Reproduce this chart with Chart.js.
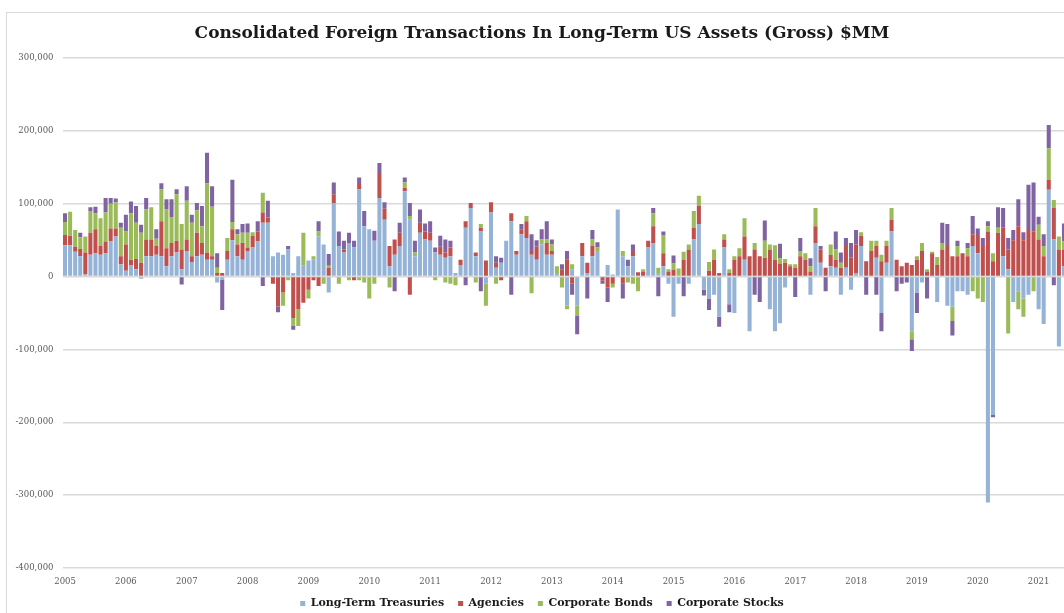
<!DOCTYPE html>
<html>
<head>
<meta charset="utf-8">
<title>Consolidated Foreign Transactions</title>
<script src="https://cdn.jsdelivr.net/npm/chart.js@4.4.1/dist/chart.umd.min.js"></script>
<style>
    html, body { margin: 0; padding: 0; background: #fff; width: 1064px; height: 613px; overflow: hidden; }
    #marco { position: absolute; left: 6px; top: 12px; width: 1080px; height: 620px; border: 1px solid #d9d9d9; background: #fff; }
    #caja { position: absolute; left: 0; top: 0; width: 1070px; height: 606px; }
</style>
</head>
<body>
<div id="marco"><div id="caja"><canvas id="grafico"></canvas></div></div>
<script>
// monthly data, Jan 2005 .. Jun 2021
const years = [2005, 2006, 2007, 2008, 2009, 2010, 2011, 2012, 2013, 2014, 2015, 2016, 2017, 2018, 2019, 2020, 2021];
const monthsLastYear = 6;

const yTicks = [-400000, -300000, -200000, -100000, 0, 100000, 200000, 300000];

// thousands of $MM
const treasuries = [
    43, 43, 34, 28, 3, 30, 32, 30, 32, 48, 55, 17,
    8, 16, 10, -3, 28, 28, 30, 28, 14, 28, 33, 10,
    35, 20, 28, 30, 23, 23, -8, -4, 23, 50, 28, 23,
    35, 40, 48, 74, 74, 28, 33, 30, 37, 5, 28, 15,
    22, 23, 55, 44, -22, 101, 42, 33, 46, 40, 120, 69,
    65, 49, 108, 78, 14, 30, 42, 117, 78, 28, 60, 51,
    49, 33, 30, 26, 28, 5, 16, 67, 94, 28, 62, -10,
    88, 12, 19, 49, 76, 30, 58, 53, 30, 23, 44, 30,
    30, 5, 0, -40, 10, -40, 28, 5, 28, 35, 0, 16,
    3, 92, 28, 14, 28, 0, 0, 40, 46, 5, 14, -10,
    -55, -10, 0, -10, 51, 72, -18, -30, -25, -55, 40, -38,
    -50, 0, 23, -75, 0, 0, 0, -45, -75, -64, -15, 0,
    0, 0, 0, -25, 46, 19, 0, 14, 12, -25, 12, -18,
    5, 42, 0, 0, 26, -50, 19, 62, 0, 0, 0, -75,
    -22, -8, 0, 0, -35, 0, -40, -41, -20, -20, -25, 42,
    32, 0, -310, -190, 0, 28, 10, -35, -20, -30, -25, 0,
    -45, -65, 119, 51, -96, 14
];

const agencies = [
    14, 13, 7, 10, 30, 30, 33, 12, 16, 18, 11, 11,
    36, 7, 14, 19, 23, 23, 12, 48, 25, 18, 16, 27,
    16, 8, 32, 16, 10, 5, 5, 5, 12, 15, 16, 23,
    5, 16, 14, 14, 7, -10, -41, -22, 0, -57, -45, -36,
    -18, -5, -13, 0, 12, 12, 0, 4, 0, -5, 7, 0,
    0, 0, 34, 15, 28, 21, 18, 5, -25, 0, 14, 11,
    11, 0, 11, 7, 12, 0, 7, 9, 7, 5, 5, 22,
    14, 7, -5, 0, 11, 5, 7, 23, 5, 18, 0, 16,
    5, 0, 10, 23, -10, 0, 18, 14, 14, 0, -5, -15,
    -10, 0, -10, 0, 7, 6, 7, 9, 23, 0, 18, 7,
    9, 0, 23, 37, 16, 25, 0, 8, 23, 5, 11, 5,
    23, 28, 32, 28, 37, 28, 26, 37, 23, 18, 19, 14,
    12, 28, 23, 7, 23, 18, 12, 16, 11, 12, 30, 26,
    39, 14, 21, 35, 16, 21, 23, 16, 23, 14, 19, 16,
    23, 35, 7, 32, 16, 37, 42, 28, 28, 32, 28, 16,
    25, 42, 62, 21, 60, 39, 27, 50, 69, 50, 64, 62,
    51, 28, 14, 43, 37, 23
];

const corpBonds = [
    18, 33, 23, 16, 22, 30, 22, 38, 40, 34, 36, 39,
    18, 64, 50, 41, 41, 44, 10, 44, 53, 35, 64, 35,
    53, 46, 31, 23, 95, 68, 7, 0, 18, 10, 14, 14,
    20, 5, 0, 27, 0, 0, 0, -18, -5, -11, -23, 45,
    -12, 5, 7, -10, 3, 0, -10, 0, -5, 0, -5, -8,
    -30, -10, 0, 0, -15, 0, 0, 7, 5, 5, 0, 0,
    0, -5, 0, -8, -10, -12, 0, 0, 0, -8, 5, -30,
    0, -10, 0, 0, 0, 0, 0, 7, -23, 0, 7, 5,
    9, 9, -15, -5, 7, -14, 0, 0, 9, 5, 0, 0,
    -5, 0, 7, -8, -10, -20, 3, 0, 18, 7, 25, 3,
    9, 11, 11, 7, 23, 14, 0, 12, 14, 0, 7, 5,
    5, 11, 25, 0, 9, 0, 23, 7, 20, 7, 5, 3,
    5, 7, 9, 7, 25, 0, 0, 14, 14, 7, 0, 0,
    0, 5, 0, 14, 7, 9, 7, 16, 0, 0, 0, -11,
    5, 11, 3, 2, 11, 9, 0, -20, 14, 0, 11, -20,
    -30, -35, 7, 11, 7, 0, -78, 0, -25, -25, 0, -20,
    20, 14, 43, 11, 18, 11
];

const corpStocks = [
    12, 0, 0, 6, 0, 5, 9, 0, 20, 8, 5, 7,
    23, 16, 23, 11, 16, 0, 13, 8, 14, 25, 7, -11,
    20, 11, 10, 28, 42, 28, 20, -42, 0, 58, 7, 12,
    13, 0, 14, -13, 23, 0, -8, 0, 5, -5, 0, 0,
    0, 0, 14, 0, 16, 16, 20, 12, 14, 9, 9, 21,
    0, 14, 14, 9, 0, -20, 14, 7, 18, 16, 18, 11,
    16, 7, 15, 18, 9, 0, 0, -12, 0, 0, -20, 0,
    0, 9, 7, 0, -25, 0, 7, 0, 23, 9, 14, 25,
    7, 0, 7, 12, -15, -25, 0, -30, 13, 7, -5, -20,
    0, 0, -20, 9, 9, 0, 0, 0, 7, -27, 5, 0,
    11, 0, -27, 0, 0, 0, -8, -16, 0, -14, 0, -11,
    0, 0, 0, 0, -25, -35, 28, 0, 0, 20, 0, 0,
    -28, 18, 0, 11, 0, 5, -20, 0, 25, 14, 11, 20,
    20, 0, -25, 0, -25, -25, 0, 0, -20, -10, -8, -16,
    -28, 0, -30, 0, 0, 28, 30, -20, 7, 0, 7, 25,
    9, 11, 7, -3, 28, 27, 16, 14, 37, 11, 62, 67,
    11, 16, 32, -12, 0, 25
];

const seriesNames = ["Long-Term Treasuries", "Agencies", "Corporate Bonds", "Corporate Stocks"];
const seriesColors = ["#95b3d7", "#c0504d", "#9bbb59", "#8064a2"];

const GraficoModel = {
    grafico: null,

    crearEtiquetas() {
        const etiquetas = [];
        years.forEach((year, i) => {
            const meses = i === years.length - 1 ? monthsLastYear : 12;
            for (let m = 1; m <= meses; m++) {
                etiquetas.push(year + "-" + String(m).padStart(2, "0"));
            }
        });
        return etiquetas;
    },

    renderizarGrafico() {
        const etiquetas = this.crearEtiquetas();
        const series = [treasuries, agencies, corpBonds, corpStocks];
        const fuenteEjes = { family: "DejaVu Serif", size: 8.5 };

        const datasets = series.map((valores, i) => ({
            label: seriesNames[i],
            data: valores.map(v => v * 1000),
            backgroundColor: seriesColors[i],
            borderWidth: 0
        }));

        const ctx = document.getElementById("grafico").getContext("2d");
        this.grafico = new Chart(ctx, {
            type: "bar",
            data: { labels: etiquetas, datasets: datasets },
            options: {
                responsive: true,
                maintainAspectRatio: false,
                animation: false,
                datasets: { bar: { categoryPercentage: 1, barPercentage: 0.8 } },
                plugins: {
                    title: {
                        display: true,
                        text: "Consolidated Foreign Transactions In Long-Term US Assets (Gross) $MM",
                        color: "#1a1a1a",
                        font: { family: "DejaVu Serif", size: 17, weight: "bold" },
                        padding: { top: 10, bottom: 14.6 }
                    },
                    legend: {
                        position: "bottom",
                        labels: {
                            boxWidth: 5,
                            boxHeight: 5,
                            padding: 14,
                            color: "#1a1a1a",
                            font: { family: "DejaVu Serif", size: 11, weight: "bold" }
                        }
                    },
                    tooltip: { enabled: false }
                },
                scales: {
                    x: {
                        stacked: true,
                        grid: { display: false, drawTicks: false },
                        border: { display: false },
                        ticks: {
                            autoSkip: false,
                            maxRotation: 0,
                            padding: 9,
                            color: "#595959",
                            font: fuenteEjes,
                            callback: (valor, i) => etiquetas[i].endsWith("-01") ? etiquetas[i].slice(0, 4) : ""
                        },
                        afterFit: escala => { escala.height = 16; }
                    },
                    y: {
                        stacked: true,
                        min: yTicks[0],
                        max: yTicks[yTicks.length - 1],
                        afterBuildTicks: escala => { escala.ticks = yTicks.map(v => ({ value: v })); },
                        ticks: {
                            padding: 9,
                            color: "#595959",
                            font: fuenteEjes,
                            callback: v => v.toLocaleString("en-US")
                        },
                        grid: { color: "#d9d9d9", lineWidth: 1.5, drawTicks: false },
                        border: { display: false },
                        afterFit: escala => { escala.width = 55.5; }
                    },
                    // empty strip on the right so the title stays centred on the frame
                    derecha: {
                        position: "right",
                        grid: { display: false },
                        border: { display: false },
                        ticks: { display: false },
                        afterFit: escala => { escala.width = 10.5; }
                    }
                }
            }
        });
    }
};

GraficoModel.renderizarGrafico();
</script>
</body>
</html>
